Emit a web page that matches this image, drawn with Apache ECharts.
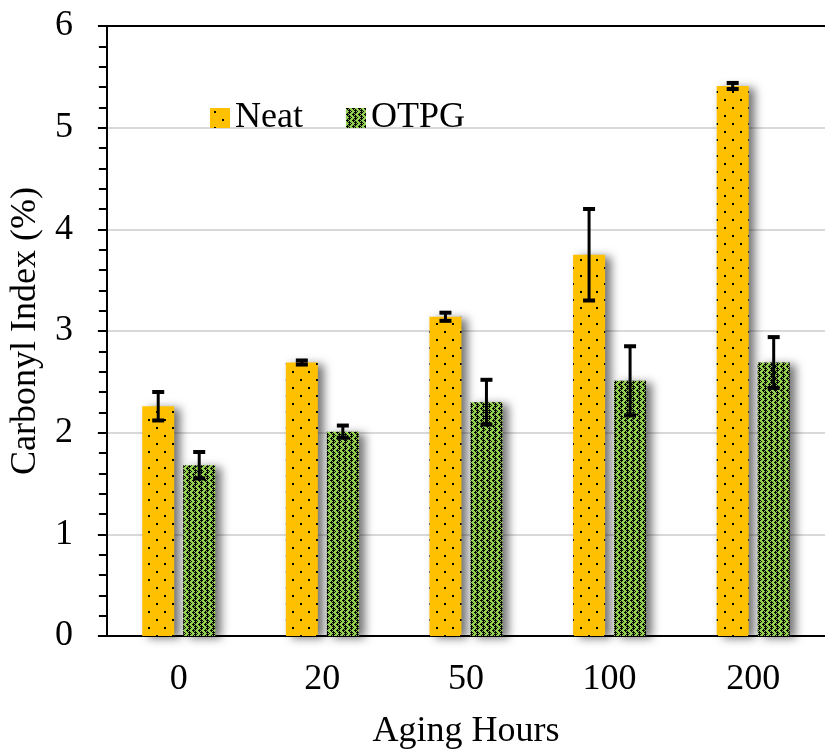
<!DOCTYPE html>
<html>
<head>
<meta charset="utf-8">
<script src="https://cdn.jsdelivr.net/npm/echarts@6/dist/echarts.min.js"></script>
<style>
  html, body { margin: 0; padding: 0; background: #fff; }
  #chart { width: 825px; height: 755px; }
</style>
</head>
<body>
<div id="chart"></div>
<script>
// data
const categories = ["0", "20", "50", "100", "200"];
const neatValues = [2.26, 2.69, 3.14, 3.75, 5.41];
const neatErrors = [0.14, 0.02, 0.04, 0.45, 0.03];
const otpgValues = [1.68, 2.01, 2.30, 2.51, 2.69];
const otpgErrors = [0.13, 0.06, 0.22, 0.34, 0.25];
const yTicks = [0, 1, 2, 3, 4, 5, 6];

const serif = "Liberation Serif";

// dotted fill for Neat
function dotPattern() {
  const c = document.createElement("canvas");
  c.width = 16; c.height = 16;
  const g = c.getContext("2d");
  g.fillStyle = "#FFC000";
  g.fillRect(0, 0, 16, 16);
  g.fillStyle = "#000";
  g.fillRect(4, 3, 2, 2);
  g.fillRect(12, 11, 2, 2);
  return c;
}

// zigzag fill for OTPG
function zigzagPattern() {
  const c = document.createElement("canvas");
  c.width = 6; c.height = 6;
  const g = c.getContext("2d");
  g.fillStyle = "#92D050";
  g.fillRect(0, 0, 6, 6);
  g.fillStyle = "#000";
  const offs = [0, 1, 2, 3, 2, 1];
  for (let y = 0; y < 6; y++) {
    for (let k = 0; k < 3; k++) {
      if (k === 1 && y % 2 === 1) continue;
      g.fillRect((offs[y] + k) % 6, y, 1, 1);
    }
  }
  return c;
}

const barW = 32;
const barGapPx = 9;
const offset = (barW + barGapPx) / 2;

function errorData(vals, errs) {
  return vals.map((v, i) => [i, v - errs[i], v + errs[i]]);
}

function errorSeries(name, vals, errs, dx) {
  return {
    type: "custom",
    name: name + " err",
    z: 10,
    silent: true,
    renderItem: function (params, api) {
      const x = api.coord([api.value(0), 0])[0] + dx;
      const lo = api.coord([api.value(0), api.value(1)])[1];
      const hi = api.coord([api.value(0), api.value(2)])[1];
      const cap = 6;
      const st = { stroke: "#000", lineWidth: 3 };
      const capSt = { stroke: "#000", lineWidth: 4 };
      return {
        type: "group",
        children: [
          { type: "line", shape: { x1: x, y1: hi, x2: x, y2: lo }, style: st },
          { type: "line", shape: { x1: x - cap, y1: hi, x2: x + cap, y2: hi }, style: capSt },
          { type: "line", shape: { x1: x - cap, y1: lo, x2: x + cap, y2: lo }, style: capSt }
        ]
      };
    },
    encode: { x: 0, y: [1, 2] },
    data: errorData(vals, errs)
  };
}

const shadow = {
  shadowColor: "rgba(0,0,0,0.55)",
  shadowBlur: 10,
  shadowOffsetX: 6,
  shadowOffsetY: 2
};

const chart = echarts.init(document.getElementById("chart"));
chart.setOption({
  animation: false,
  grid: { left: 106, right: 0, top: 26, bottom: 115 },
  legend: {
    left: 205,
    top: 95,
    itemWidth: 20,
    itemHeight: 20,
    itemGap: 43,
    icon: "rect",
    data: ["Neat", "OTPG"],
    itemStyle: { shadowBlur: 0, shadowOffsetX: 0, shadowOffsetY: 0 },
    textStyle: { fontFamily: serif, fontSize: 36, color: "#000" }
  },
  xAxis: [
    {
      type: "category",
      data: categories,
      name: "Aging Hours",
      nameLocation: "middle",
      nameGap: 78,
      nameTextStyle: { fontFamily: serif, fontSize: 36, color: "#000" },
      axisLine: { lineStyle: { color: "#000", width: 2 } },
      axisTick: { inside: true, length: 11, lineStyle: { color: "#000", width: 2 } },
      axisLabel: { fontFamily: serif, fontSize: 36, color: "#000", margin: 26 }
    },
    {
      type: "category",
      data: categories,
      position: "top",
      axisLine: { lineStyle: { color: "#000", width: 2 } },
      axisTick: { show: false },
      axisLabel: { show: false }
    }
  ],
  yAxis: {
    type: "value",
    min: 0,
    max: 6,
    interval: 1,
    name: "Carbonyl Index (%)",
    nameLocation: "middle",
    nameGap: 60,
    nameTextStyle: { fontFamily: serif, fontSize: 36, color: "#000" },
    axisLine: { show: true, lineStyle: { color: "#000", width: 2 } },
    axisTick: { show: true, length: 9, lineStyle: { color: "#000", width: 2 } },
    minorTick: { show: true, splitNumber: 5, length: 8, lineStyle: { color: "#000", width: 2 } },
    splitLine: { lineStyle: { color: "#d9d9d9", width: 2 } },
    axisLabel: {
      fontFamily: serif, fontSize: 36, color: "#000", margin: 34,
      formatter: v => (yTicks.indexOf(v) >= 0 ? String(v) : "")
    }
  },
  series: [
    {
      name: "Neat",
      type: "bar",
      barWidth: barW,
      barGap: (barGapPx / barW * 100) + "%",
      itemStyle: Object.assign({ color: { image: dotPattern(), repeat: "repeat" } }, shadow),
      data: neatValues
    },
    {
      name: "OTPG",
      type: "bar",
      barWidth: barW,
      itemStyle: Object.assign({ color: { image: zigzagPattern(), repeat: "repeat" } }, shadow),
      data: otpgValues
    },
    errorSeries("Neat", neatValues, neatErrors, -offset),
    errorSeries("OTPG", otpgValues, otpgErrors, offset)
  ]
});
</script>
</body>
</html>
